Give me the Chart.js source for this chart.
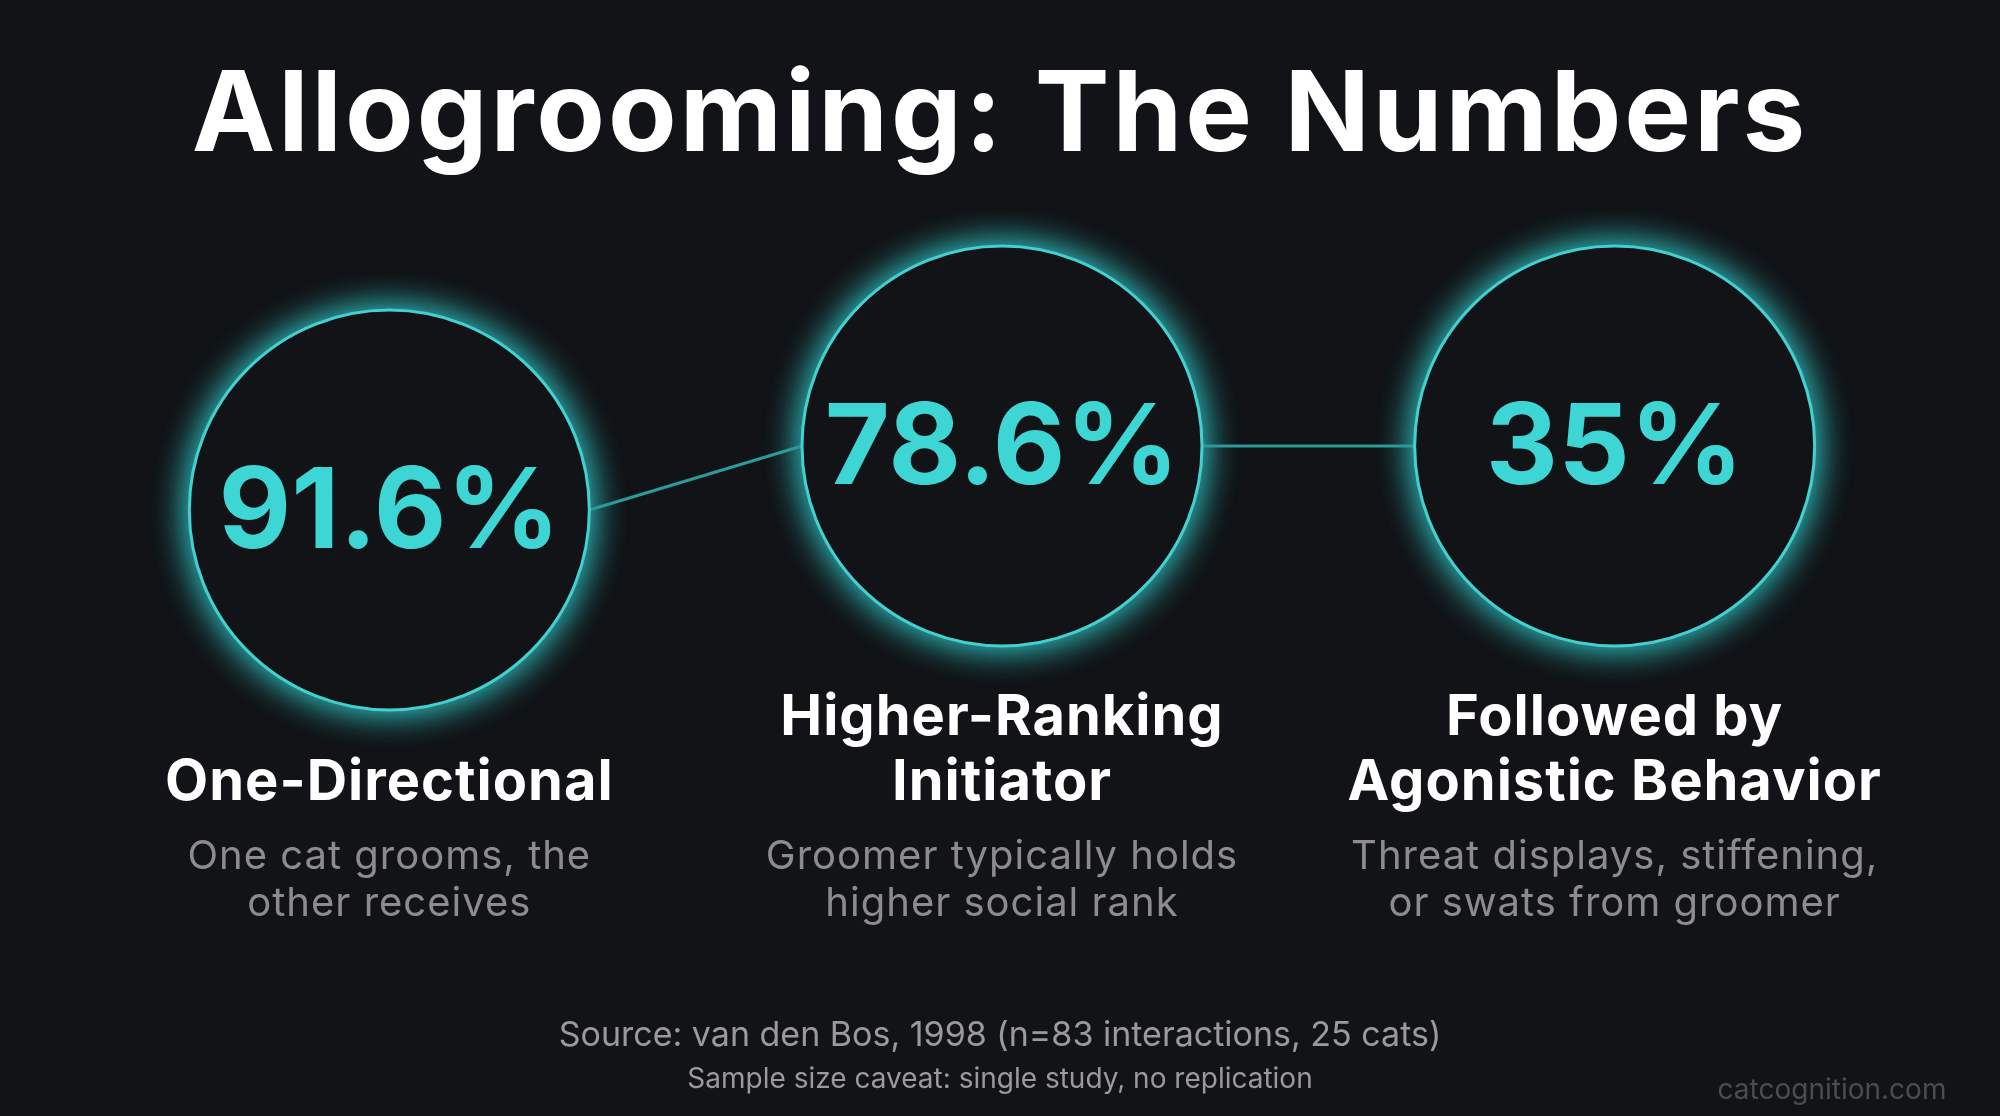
<!DOCTYPE html>
<html><head><meta charset="utf-8">
<script src="https://cdn.jsdelivr.net/npm/chart.js@4/dist/chart.umd.min.js"></script>
<style>html,body{margin:0;padding:0;background:#121316;}#w{width:2000px;height:1116px;}</style>
</head><body><div id="w"><canvas id="c"></canvas></div>
<script>
const categories = ["One-Directional", "Higher-Ranking Initiator", "Followed by Agonistic Behavior"];
const values = [91.6, 78.6, 35];
const valueLabels = ["91.6%", "78.6%", "35%"];
const titleLines = [["One-Directional"], ["Higher-Ranking", "Initiator"], ["Followed by", "Agonistic Behavior"]];
const descLines = [["One cat grooms, the", "other receives"], ["Groomer typically holds", "higher social rank"], ["Threat displays, stiffening,", "or swats from groomer"]];
const chartTitle = "Allogrooming: The Numbers";
const sourceText = "Source: van den Bos, 1998 (n=83 interactions, 25 cats)";
const caveatText = "Sample size caveat: single study, no replication";
const watermark = "catcognition.com";

const circleY = [510, 446, 446];
const R = 200;
const FONT = "Inter, 'Open Sans', sans-serif";

const drawPlugin = {
  id: 'infographic',
  beforeDraw(chart) {
    const ctx = chart.ctx;
    ctx.save();
    ctx.fillStyle = '#121316';
    ctx.fillRect(0, 0, chart.width, chart.height);
    ctx.restore();
  },
  afterDatasetsDraw(chart) {
    const ctx = chart.ctx;
    const xs = chart.scales.x;
    const pts = categories.map((c, i) => ({x: xs.getPixelForValue(i), y: circleY[i]}));
    ctx.save();
    ctx.textAlign = 'center'; ctx.textBaseline = 'middle';
    ctx.fillStyle = '#ffffff';
    ctx.font = `bold 112px ${FONT}`;
    ctx.letterSpacing = '3px';
    ctx.fillText(chartTitle, 1000, 117);
    ctx.letterSpacing = '0px';
    // glows
    pts.forEach(p => {
      for (let k = 0; k < 2; k++) {
        ctx.save();
        ctx.shadowColor = 'rgba(50,210,210,0.75)';
        ctx.shadowBlur = 36;
        ctx.fillStyle = '#111316';
        ctx.beginPath(); ctx.arc(p.x, p.y, R, 0, Math.PI*2); ctx.fill();
        ctx.restore();
      }
    });
    // connectors
    ctx.strokeStyle = '#2a9a9a'; ctx.lineWidth = 3;
    for (let i = 0; i < pts.length - 1; i++) {
      const a = pts[i], b = pts[i+1];
      ctx.beginPath();
      ctx.moveTo(a.x + R, a.y);
      ctx.lineTo(b.x - R, b.y);
      ctx.stroke();
    }
    pts.forEach((p, i) => {
      ctx.fillStyle = '#111316';
      ctx.beginPath(); ctx.arc(p.x, p.y, R, 0, Math.PI*2); ctx.fill();
      ctx.strokeStyle = '#44d0d0'; ctx.lineWidth = 3;
      ctx.beginPath(); ctx.arc(p.x, p.y, R, 0, Math.PI*2); ctx.stroke();
      ctx.fillStyle = '#3dd6d4';
      ctx.font = `bold 112px ${FONT}`;
      ctx.fillText(valueLabels[i], p.x, p.y + 4);
      const tl = titleLines[i];
      ctx.fillStyle = '#ffffff';
      ctx.font = `bold 56px ${FONT}`;
      ctx.letterSpacing = '1px';
      tl.forEach((t, j) => ctx.fillText(t, p.x, 783 - (tl.length - 1 - j) * 65));
      ctx.fillStyle = '#8c8c8f';
      ctx.font = `40px ${FONT}`;
      descLines[i].forEach((t, j) => ctx.fillText(t, p.x, 857 + j * 47));
      ctx.letterSpacing = '0px';
    });
    ctx.fillStyle = '#9a9a9d';
    ctx.font = `34px ${FONT}`;
    ctx.fillText(sourceText, 1000, 1036);
    ctx.font = `28px ${FONT}`;
    ctx.fillText(caveatText, 1000, 1080);
    ctx.fillStyle = '#4a4c50';
    ctx.font = `28px ${FONT}`;
    ctx.fillText(watermark, 1832, 1091);
    ctx.restore();
  }
};

new Chart(document.getElementById('c'), {
  type: 'line',
  data: { labels: categories, datasets: [{ data: values, showLine: false, pointRadius: 0 }] },
  options: {
    responsive: true, maintainAspectRatio: false, animation: false,
    layout: { padding: { left: 83, right: 79, top: 0, bottom: 0 } },
    plugins: { legend: { display: false }, tooltip: { enabled: false } },
    scales: {
      x: { type: 'category', offset: true, display: false },
      y: { display: false, min: 0, max: 100 }
    }
  },
  plugins: [drawPlugin]
});
</script></body></html>
